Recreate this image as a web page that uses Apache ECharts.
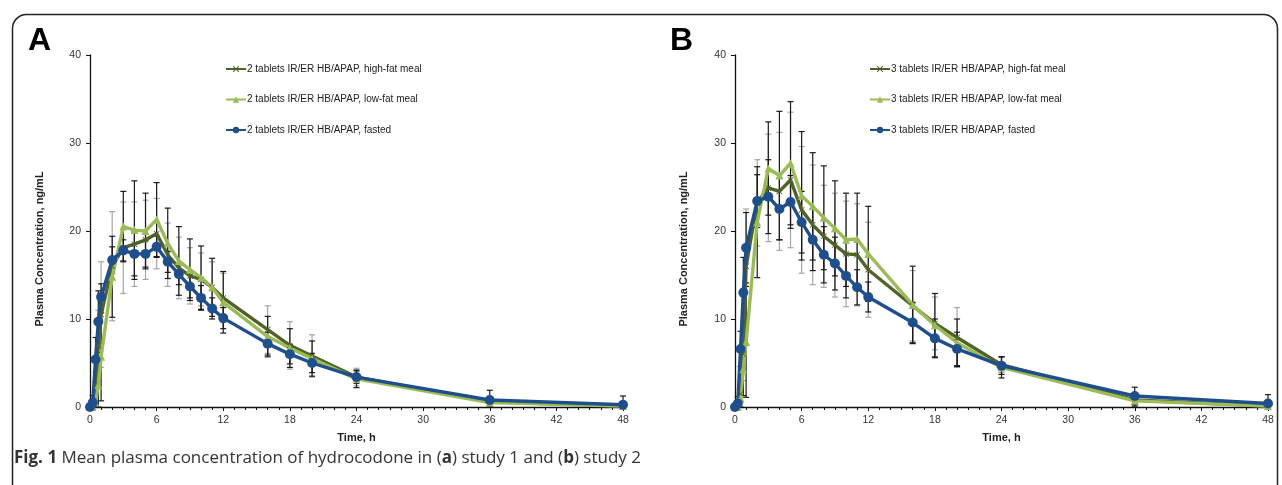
<!DOCTYPE html>
<html lang="en">
<head>
<meta charset="utf-8">
<title>Mean plasma concentration of hydrocodone</title>
<script src="https://cdn.jsdelivr.net/npm/echarts@6/dist/echarts.min.js"></script>
<style>
  html, body { margin: 0; padding: 0; background: #fff; }
  #main { width: 1282px; height: 485px; }
</style>
</head>
<body>
<div id="main"></div>
<script>
// sampling times (h)
var times = [0, 0.25, 0.5, 0.75, 1, 2, 3, 4, 5, 6, 7, 8, 9, 10, 11, 12, 16, 18, 20, 24, 36, 48];

// study 1 (2 tablets)
var highA   = [0, 0.2, 2.5, 7.0, 10.5, 16.0, 18.1, 18.5, 19.0, 19.7, 17.3, 15.8, 14.9, 14.5, 13.6, 12.4, 8.8, 7.0, 5.8, 3.4, 0.6, 0.1];
var highSdA = [0, 0.4, 1.5, 4, 6, 6.2, 5.2, 4.8, 4.5, 4.0, 3.6, 3.5, 3.2, 3.0, 2.9, 2.8, 2.7, 2.7, 2.4, 1.0, 0.5, 0.2];
var lowA    = [0, 0, 0.5, 2.5, 5.7, 14.8, 20.5, 20.1, 20.0, 21.3, 18.6, 16.6, 15.6, 14.7, 13.6, 11.9, 8.0, 6.7, 5.5, 3.2, 0.5, 0.1];
var lowSdA  = [0, 0.3, 1.2, 3, 5, 4.6, 4.0, 5.6, 4.3, 4.2, 4.0, 3.9, 3.5, 3.6, 3.3, 3.5, 2.3, 2.2, 2.0, 1.0, 0.4, 0.2];
var fastA   = [0, 0.5, 5.4, 9.7, 12.5, 16.7, 17.8, 17.4, 17.4, 18.2, 16.5, 15.1, 13.7, 12.4, 11.2, 10.1, 7.2, 6.0, 5.0, 3.4, 0.8, 0.25];
var fastSdA = [0.2, 0.8, 2.5, 3.5, 1.5, 1.5, 1.2, 2.5, 1.5, 1.2, 1.2, 1.2, 1.3, 1.4, 1.2, 1.2, 1.3, 1.1, 1.1, 0.7, 1.1, 1.0];

// study 2 (3 tablets)
var highB   = [0, 0.2, 1.5, 6, 16.0, 23.2, 24.9, 24.5, 25.8, 22.4, 20.7, 19.4, 18.4, 17.4, 17.3, 15.6, 11.5, 9.5, 7.9, 4.8, 0.8, 0.1];
var highSdB = [0, 0.3, 1, 3, 6.5, 4.9, 6.1, 6.7, 7.7, 7.2, 6.8, 5.8, 5.9, 6.0, 5.8, 5.4, 4.0, 3.0, 3.4, 0.9, 0.5, 0.2];
var lowB    = [0, 0, 1.0, 4.3, 7.4, 21.0, 27.1, 26.3, 27.7, 24.0, 22.8, 21.5, 20.3, 19.0, 19.1, 17.4, 11.6, 9.3, 7.3, 4.5, 0.7, 0.1];
var lowSdB  = [0, 0.3, 1, 3, 6.3, 6.3, 5.3, 7.3, 7.0, 7.3, 6.1, 5.9, 5.4, 5.3, 5.2, 5.4, 4.4, 3.6, 2.7, 1.2, 0.6, 0.3];
var fastB   = [0, 0.4, 6.6, 13.0, 18.1, 23.4, 23.9, 22.5, 23.3, 21.0, 19.0, 17.3, 16.3, 14.9, 13.6, 12.5, 9.6, 7.8, 6.6, 4.7, 1.25, 0.4];
var fastSdB = [0.3, 0.8, 2, 4, 4, 3, 4.2, 3.5, 3.0, 3.5, 3.5, 3.2, 3.0, 2.5, 2.0, 1.7, 2.3, 2.2, 1.9, 1.0, 1.0, 1.0];

var namesA = ['2 tablets IR/ER HB/APAP, high-fat meal', '2 tablets IR/ER HB/APAP, low-fat meal', '2 tablets IR/ER HB/APAP, fasted'];
var namesB = ['3 tablets IR/ER HB/APAP, high-fat meal', '3 tablets IR/ER HB/APAP, low-fat meal', '3 tablets IR/ER HB/APAP, fasted'];

var cHigh = '#4f6228', cLow = '#9bbb59', cFast = '#1f4e8c';
var xMark = 'path://M0,1L1,0L5,4L9,0L10,1L6,5L10,9L9,10L5,6L1,10L0,9L4,5Z';
var font = 'Liberation Sans, Arial, sans-serif';

function pts(vals) {
  return times.map(function (t, i) { return [t, vals[i]]; });
}
function bars(vals, sd) {
  return times.map(function (t, i) { return [t, Math.max(0, vals[i] - sd[i]), vals[i] + sd[i]]; });
}

// error bars drawn as vertical line + caps
function errSeries(idx, vals, sd, col) {
  return {
    type: 'custom',
    xAxisIndex: idx, yAxisIndex: idx,
    silent: true, z: 1,
    data: bars(vals, sd),
    renderItem: function (params, api) {
      var lo = api.coord([api.value(0), api.value(1)]);
      var hi = api.coord([api.value(0), api.value(2)]);
      var w = 3;
      var st = { stroke: col, lineWidth: 1.2 };
      return {
        type: 'group',
        children: [
          { type: 'line', shape: { x1: lo[0], y1: lo[1], x2: hi[0], y2: hi[1] }, style: st },
          { type: 'line', shape: { x1: lo[0] - w, y1: lo[1], x2: lo[0] + w, y2: lo[1] }, style: st },
          { type: 'line', shape: { x1: hi[0] - w, y1: hi[1], x2: hi[0] + w, y2: hi[1] }, style: st }
        ]
      };
    }
  };
}

function lineSeries(idx, name, vals, col, sym, size) {
  return {
    name: name, type: 'line',
    xAxisIndex: idx, yAxisIndex: idx,
    data: pts(vals), z: 3,
    symbol: sym, symbolSize: size, showAllSymbol: true,
    lineStyle: { color: col, width: 3.4 },
    itemStyle: { color: col },
    animation: false
  };
}

function xAx(idx) {
  return {
    type: 'value', gridIndex: idx, min: 0, max: 48, interval: 6,
    name: 'Time, h', nameLocation: 'middle', nameGap: 25,
    nameTextStyle: { fontFamily: font, fontWeight: 'bold', fontSize: 11, color: '#222' },
    axisLine: { lineStyle: { color: '#111', width: 1.3 } },
    axisTick: { length: 4, lineStyle: { color: '#111' } },
    minorTick: { show: true, splitNumber: 6, length: 3, lineStyle: { color: '#111' } },
    axisLabel: { fontFamily: font, fontSize: 10.5, color: '#333', margin: 8 },
    splitLine: { show: false }
  };
}
function yAx(idx) {
  return {
    type: 'value', gridIndex: idx, min: 0, max: 40, interval: 10,
    axisLine: { show: true, lineStyle: { color: '#111', width: 1.3 } },
    axisTick: { show: true, length: 4, lineStyle: { color: '#111' } },
    axisLabel: { fontFamily: font, fontSize: 10.5, color: '#333', margin: 9 },
    splitLine: { show: false }
  };
}
function legendFor(names, left) {
  return {
    data: names, orient: 'vertical', left: left, top: 59, itemGap: 20.5,
    itemWidth: 20, itemHeight: 8, selectedMode: false,
    textStyle: { fontFamily: font, fontSize: 10, color: '#222', padding: [0, 0, 0, -4] }
  };
}
function yName(x) {
  return {
    type: 'text', x: x, y: 249, rotation: Math.PI / 2, silent: true,
    style: {
      text: 'Plasma Concentration, ng/mL', font: 'bold 11px ' + font, fill: '#222',
      align: 'center', verticalAlign: 'middle'
    }
  };
}

var myChart = echarts.init(document.getElementById('main'), null, { renderer: 'canvas' });

var option = {
  animation: false,
  backgroundColor: '#fff',
  grid: [
    { left: 90, top: 55, width: 533, height: 352 },
    { left: 735, top: 55, width: 533, height: 352 }
  ],
  xAxis: [xAx(0), xAx(1)],
  yAxis: [yAx(0), yAx(1)],
  legend: [legendFor(namesA, 220), legendFor(namesB, 864)],
  series: [
    errSeries(0, highA, highSdA, '#a6a6a6'),
    errSeries(0, lowA, lowSdA, '#1a1a1a'),
    errSeries(0, fastA, fastSdA, '#1a1a1a'),
    lineSeries(0, namesA[0], highA, cHigh, xMark, 6),
    lineSeries(0, namesA[1], lowA, cLow, 'triangle', 8),
    lineSeries(0, namesA[2], fastA, cFast, 'circle', 10),
    errSeries(1, highB, highSdB, '#a6a6a6'),
    errSeries(1, lowB, lowSdB, '#1a1a1a'),
    errSeries(1, fastB, fastSdB, '#1a1a1a'),
    lineSeries(1, namesB[0], highB, cHigh, xMark, 6),
    lineSeries(1, namesB[1], lowB, cLow, 'triangle', 8),
    lineSeries(1, namesB[2], fastB, cFast, 'circle', 10)
  ],
  graphic: [
    {
      type: 'rect', left: 10, top: 12, silent: true, z: -1,
      shape: { width: 1265, height: 520, r: 14 },
      style: { fill: 'none', stroke: '#222', lineWidth: 1.5 }
    },
    { type: 'text', left: 28, top: 25, style: { text: 'A', font: 'bold 32px ' + font, fill: '#000' } },
    { type: 'text', left: 670, top: 25, style: { text: 'B', font: 'bold 32px ' + font, fill: '#000' } },
    yName(40),
    yName(684),
    {
      type: 'text', left: 14, top: 450,
      style: {
        text: '{b|Fig. 1} Mean plasma concentration of hydrocodone in ({b|a}) study 1 and ({b|b}) study 2',
        font: '17px Open Sans, sans-serif', fill: '#333',
        rich: { b: { fontWeight: 'bold', fontSize: 17, fontFamily: 'Open Sans, sans-serif', fill: '#333' } }
      }
    }
  ]
};

myChart.setOption(option);
</script>
</body>
</html>
